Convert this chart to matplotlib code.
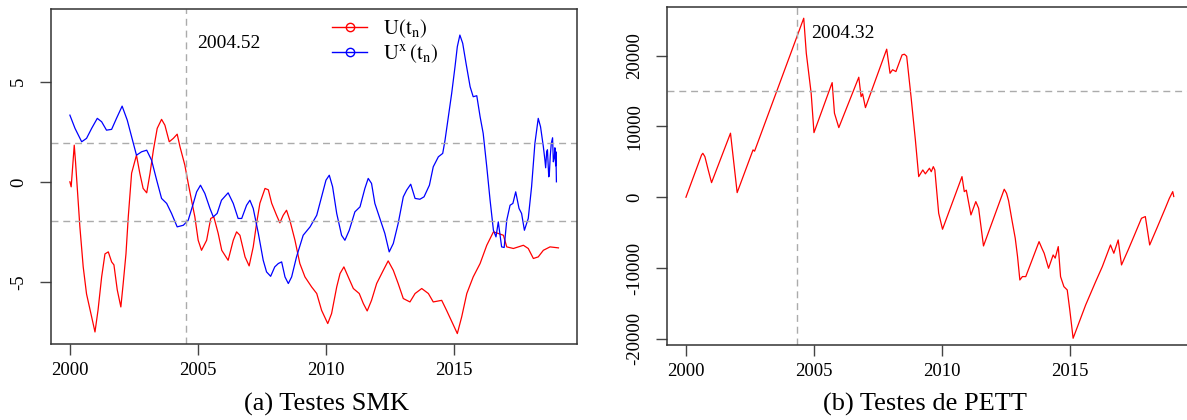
import matplotlib
matplotlib.use("Agg")
import matplotlib.pyplot as plt
from matplotlib.lines import Line2D

plt.rcParams['font.family'] = ['Liberation Serif', 'DejaVu Serif']
plt.rcParams['mathtext.fontset'] = 'stix'
plt.rcParams['axes.unicode_minus'] = False

# Sequential Mann-Kendall: progressive U(t_n) and retrograde U*(t_n)
smk_years = [2000.00, 2000.05, 2000.17, 2000.22, 2000.39, 2000.52, 2000.65, 2000.85,
             2000.98, 2001.10, 2001.24, 2001.37, 2001.50, 2001.63, 2001.72, 2001.85,
             2001.99, 2002.08, 2002.19, 2002.28, 2002.41, 2002.60, 2002.73, 2002.86,
             2003.00, 2003.13, 2003.26, 2003.41, 2003.58, 2003.71, 2003.88, 2004.04,
             2004.19, 2004.30, 2004.49, 2004.62, 2004.75, 2004.88, 2005.01, 2005.14,
             2005.34, 2005.50, 2005.62, 2005.79, 2005.93, 2006.18, 2006.38, 2006.51,
             2006.64, 2006.84, 2007.00, 2007.16, 2007.29, 2007.42, 2007.62, 2007.75,
             2007.88, 2008.07, 2008.20, 2008.33, 2008.46, 2008.59, 2008.79, 2008.98,
             2009.18, 2009.44, 2009.64, 2009.83, 2010.07, 2010.22, 2010.42, 2010.55,
             2010.70, 2010.87, 2011.07, 2011.30, 2011.46, 2011.61, 2011.78, 2011.98,
             2012.24, 2012.43, 2012.63, 2012.82, 2013.02, 2013.28, 2013.48, 2013.74,
             2014.00, 2014.19, 2014.52, 2014.71, 2014.95, 2015.13, 2015.30, 2015.50,
             2015.75, 2016.02, 2016.28, 2016.54, 2016.73, 2016.93, 2017.06, 2017.32,
             2017.71, 2017.90, 2018.10, 2018.29, 2018.49, 2018.75, 2019.08]
u_prog = [0.00, -0.25, 1.83, 1.00, -2.25, -4.25, -5.60, -6.75,
          -7.50, -6.40, -4.75, -3.60, -3.50, -4.00, -4.15, -5.40,
          -6.25, -5.10, -3.60, -1.75, 0.43, 1.33, 0.43, -0.33,
          -0.55, 0.43, 1.58, 2.67, 3.12, 2.83, 2.00, 2.17,
          2.38, 1.75, 0.83, -0.07, -0.92, -1.75, -2.92, -3.42,
          -2.92, -1.83, -1.75, -2.57, -3.42, -3.92, -2.92, -2.50,
          -2.67, -3.75, -4.20, -3.25, -2.08, -1.07, -0.33, -0.40,
          -1.07, -1.67, -2.05, -1.67, -1.42, -1.92, -2.92, -4.08,
          -4.75, -5.25, -5.58, -6.42, -7.08, -6.58, -5.25, -4.58,
          -4.25, -4.75, -5.33, -5.58, -6.08, -6.45, -5.92, -5.08,
          -4.42, -3.95, -4.42, -5.08, -5.83, -6.00, -5.58, -5.33,
          -5.58, -6.00, -5.92, -6.42, -7.08, -7.58, -6.75, -5.58,
          -4.75, -4.08, -3.17, -2.50, -2.58, -2.67, -3.25, -3.33,
          -3.17, -3.33, -3.83, -3.75, -3.42, -3.25, -3.30]

smk_years_r = [2000.00, 2000.20, 2000.46, 2000.65, 2000.85, 2001.07, 2001.24, 2001.43,
               2001.63, 2001.82, 2002.04, 2002.24, 2002.41, 2002.60, 2002.80, 2003.00,
               2003.19, 2003.39, 2003.58, 2003.78, 2003.97, 2004.19, 2004.43, 2004.62,
               2004.82, 2004.95, 2005.10, 2005.27, 2005.47, 2005.60, 2005.75, 2005.92,
               2006.18, 2006.38, 2006.57, 2006.71, 2006.90, 2007.03, 2007.16, 2007.36,
               2007.55, 2007.68, 2007.84, 2008.00, 2008.14, 2008.27, 2008.40, 2008.53,
               2008.66, 2008.85, 2009.11, 2009.38, 2009.64, 2009.83, 2010.00, 2010.13,
               2010.26, 2010.42, 2010.61, 2010.74, 2010.91, 2011.13, 2011.33, 2011.52,
               2011.65, 2011.78, 2011.91, 2012.04, 2012.30, 2012.47, 2012.63, 2012.82,
               2013.02, 2013.15, 2013.31, 2013.48, 2013.67, 2013.83, 2014.04, 2014.19,
               2014.39, 2014.56, 2014.65, 2014.78, 2014.91, 2015.04, 2015.13, 2015.23,
               2015.34, 2015.47, 2015.63, 2015.75, 2015.89, 2016.02, 2016.14, 2016.28,
               2016.41, 2016.54, 2016.64, 2016.73, 2016.86, 2016.96, 2017.06, 2017.19,
               2017.30, 2017.41, 2017.54, 2017.64, 2017.75, 2017.90, 2018.03, 2018.16,
               2018.29, 2018.38, 2018.49, 2018.55, 2018.58, 2018.62, 2018.65, 2018.70,
               2018.72, 2018.76, 2018.80, 2018.83, 2018.85, 2018.88, 2018.92, 2018.94,
               2018.97, 2018.98, 2019.00]
u_retr = [3.33, 2.67, 2.00, 2.17, 2.67, 3.17, 3.00, 2.58,
          2.62, 3.17, 3.78, 3.08, 2.25, 1.33, 1.50, 1.58,
          1.08, 0.08, -0.83, -1.08, -1.58, -2.25, -2.17, -1.92,
          -1.08, -0.50, -0.17, -0.58, -1.33, -1.75, -1.58, -0.92,
          -0.55, -1.08, -1.83, -1.83, -1.17, -0.92, -1.33, -2.58,
          -3.92, -4.50, -4.72, -4.25, -4.08, -4.00, -4.75, -5.08,
          -4.75, -3.75, -2.67, -2.25, -1.67, -0.75, 0.08, 0.33,
          -0.25, -1.58, -2.67, -2.92, -2.42, -1.50, -1.25, -0.33,
          0.17, -0.08, -1.08, -1.58, -2.58, -3.50, -3.08, -2.08,
          -0.75, -0.42, -0.12, -0.83, -0.87, -0.75, -0.17, 0.75,
          1.25, 1.42, 2.08, 3.25, 4.42, 5.75, 6.75, 7.33,
          6.92, 5.92, 4.75, 4.25, 4.30, 3.25, 2.42, 0.75,
          -0.92, -2.42, -2.75, -2.00, -3.25, -3.28, -1.92, -1.17,
          -1.08, -0.50, -1.33, -1.58, -2.42, -1.83, -0.25, 1.92,
          3.17, 2.75, 1.75, 1.10, 0.70, 1.50, 1.60, 0.25,
          0.30, 1.30, 1.92, 2.10, 2.20, 1.00, 1.25, 1.70,
          0.80, 1.50, 0.00]

# Pettitt statistic U_t
pett_years = [2000.00, 2000.61, 2000.66, 2000.74, 2000.87, 2001.00, 2001.74, 2002.00,
              2002.62, 2002.68, 2004.60, 2004.70, 2004.89, 2005.00, 2005.71, 2005.80,
              2005.97, 2006.75, 2006.84, 2006.90, 2007.01, 2007.84, 2007.97, 2008.07,
              2008.20, 2008.44, 2008.53, 2008.62, 2008.79, 2008.96, 2009.09, 2009.25,
              2009.35, 2009.51, 2009.58, 2009.66, 2009.72, 2009.87, 2010.02, 2010.78,
              2010.87, 2010.95, 2011.13, 2011.32, 2011.43, 2011.62, 2012.43, 2012.52,
              2012.60, 2012.73, 2012.86, 2012.95, 2013.04, 2013.14, 2013.27, 2013.79,
              2013.90, 2013.99, 2014.16, 2014.34, 2014.42, 2014.54, 2014.63, 2014.76,
              2014.89, 2014.99, 2015.12, 2015.61, 2016.00, 2016.26, 2016.58, 2016.71,
              2016.88, 2017.01, 2017.27, 2017.49, 2017.79, 2017.94, 2018.11, 2018.39,
              2018.72, 2018.88, 2019.01, 2019.05]
pett_stat = [0, 5970, 6200, 5730, 3850, 2060, 9040, 650,
             6680, 6500, 25270, 20330, 14690, 9120, 16180, 11860,
             9830, 16940, 14200, 14600, 12650, 20900, 17500, 18000,
             17740, 20090, 20190, 19900, 14200, 8090, 2910, 3850,
             3300, 4090, 3600, 4320, 3850, -2260, -4520, 2910,
             790, 1000, -2500, -620, -1560, -6880, 1130, 560,
             -500, -3200, -5790, -8390, -11680, -11200, -11210, -6270,
             -7200, -7910, -10030, -8150, -8600, -6970, -11210, -12620,
             -13090, -15910, -19910, -15210, -11920, -9800, -6740, -7910,
             -6030, -9560, -7440, -5560, -2970, -2730, -6740, -4380,
             -1550, -140, 790, 100]

SMK_CP = 2004.52
PETT_CP = 2004.32
SMK_CRIT = 1.96
PETT_CRIT = 14950

GRID_GREY = '#ababab'
FRAME = '#333333'


def style_axes(ax):
    for side in ax.spines.values():
        side.set_color(FRAME)
        side.set_linewidth(1.1)
    ax.tick_params(direction='out', length=8, width=1.0, color='#444444',
                   labelsize=13.5, pad=5)
    ax.tick_params(axis='y', labelrotation=90, pad=9)
    for lbl in ax.get_yticklabels():
        lbl.set_verticalalignment('center')
    ax.set_xticks([2000, 2005, 2010, 2015])
    ax.set_xlim(1999.25, 2019.79)


fig = plt.figure(figsize=(11.87, 4.2), dpi=100)

# (a) sequential Mann-Kendall
ax1 = fig.add_axes([0.0427, 0.181, 0.4431, 0.797])
ax1.plot(smk_years, u_prog, color='#ff0000', lw=0.9)
ax1.plot(smk_years_r, u_retr, color='#0000ff', lw=0.9)
for lvl in (SMK_CRIT, -SMK_CRIT):
    ax1.axhline(lvl, color=GRID_GREY, lw=1.0, ls=(0, (5, 3.5)))
ax1.axvline(SMK_CP, color=GRID_GREY, lw=1.0, ls=(0, (5, 3.5)))
ax1.text(2004.97, 6.92, f'{SMK_CP:.2f}', fontsize=14, ha='left', va='center')
ax1.set_ylim(-8.1, 8.62)
ax1.set_yticks([-5, 0, 5])
ax1.set_yticklabels(['-5', '0', '5'])
style_axes(ax1)

handles = [
    Line2D([], [], color='#ff0000', lw=1.0, marker='o', mfc='none', ms=6, mew=1.0),
    Line2D([], [], color='#0000ff', lw=1.0, marker='o', mfc='none', ms=6, mew=1.0),
]
ax1.legend(handles, [r'$\mathrm{U(t_n)}$', r'$\mathrm{U^x\,(t_n)}$'],
           loc='upper left', bbox_to_anchor=(0.535, 0.975), frameon=False,
           fontsize=15, handlelength=1.7, handletextpad=0.75, borderpad=0,
           labelspacing=0.12, borderaxespad=0)

# (b) Pettitt
ax2 = fig.add_axes([0.5617, 0.1786, 0.4431, 0.8055])
ax2.plot(pett_years, pett_stat, color='#ff0000', lw=0.9)
ax2.axhline(PETT_CRIT, color=GRID_GREY, lw=1.0, ls=(0, (5, 3.5)))
ax2.axvline(PETT_CP, color=GRID_GREY, lw=1.0, ls=(0, (5, 3.5)))
ax2.text(2004.9, 23160, f'{PETT_CP:.2f}', fontsize=14, ha='left', va='center')
ax2.set_ylim(-20860, 26900)
ax2.set_yticks([-20000, -10000, 0, 10000, 20000])
ax2.set_yticklabels(['-20000', '-10000', '0', '10000', '20000'])
style_axes(ax2)

fig.text(326 / 1187, 0.036, '(a) Testes SMK', fontsize=19, ha='center', va='center')
fig.text(925 / 1187, 0.036, '(b) Testes de PETT', fontsize=19, ha='center', va='center')

fig.savefig('out.png', dpi=100)
plt.close(fig)
